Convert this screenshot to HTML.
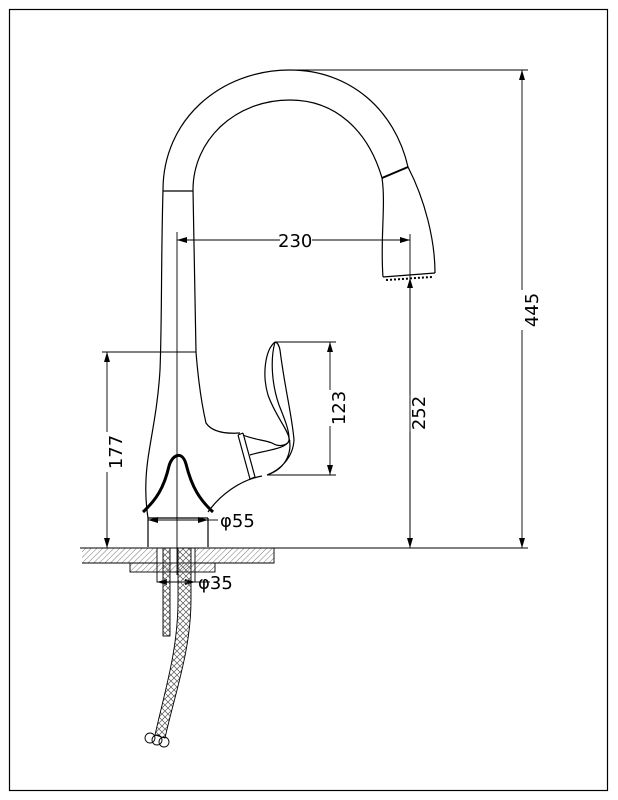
<!DOCTYPE html>
<html><head><meta charset="utf-8"><style>
html,body{margin:0;padding:0;background:#fff;}
svg{display:block;}
text{font-family:"DejaVu Sans","Liberation Sans",sans-serif;font-size:18px;fill:#000;}
</style></head><body>
<svg width="618" height="800" viewBox="0 0 618 800" xmlns="http://www.w3.org/2000/svg">
<defs>
<pattern id="h" width="4" height="4" patternUnits="userSpaceOnUse" patternTransform="rotate(45)">
<line x1="0" y1="0" x2="0" y2="4" stroke="#777" stroke-width="1"/></pattern>
<pattern id="x" width="6" height="6" patternUnits="userSpaceOnUse">
<path d="M0 0L6 6M6 0L0 6" stroke="#555" stroke-width="0.7"/></pattern>
<marker id="a" markerWidth="10" markerHeight="6" refX="10" refY="3" orient="auto" markerUnits="userSpaceOnUse">
<path d="M0 0L10 3L0 6z" fill="#000"/></marker>
</defs>
<rect x="9.5" y="9.5" width="598" height="781" fill="none" stroke="#000" stroke-width="1.2"/>
<g fill="none" stroke="#000" stroke-width="1.2">
<path d="M163 190 C163 120 220 70 290 70 C350 70 395 110 408 167 C425 200 435 240 435 273"/>
<path d="M193 190 C193 140 235 100 290 100 C335 100 368 130 382 178 C386 205 380 240 383 277"/>
<line x1="163" y1="191" x2="193" y2="191"/>
<line x1="382" y1="178" x2="408" y2="167" stroke-width="2"/>
<path d="M383 277 L435 273"/>
<path d="M386 280 L432 277" stroke-dasharray="2 2" stroke-width="2"/>
<path d="M163 190 C161 260 162 320 160 370 C157 420 147 450 146 480 C145 500 147 510 148 518"/>
<path d="M193 190 C194 260 195 320 196 352 C199 390 203 410 206 423 C212 432 225 434 240 433"/>
<path d="M148 518 L148 547 M208 518 L208 547 M148 518 L208 518"/>
<path d="M208 512 C220 495 240 480 262 476"/>
<path d="M143 512 C156 500 164 488 169 466 C172 455 182 450 186 464 C192 488 200 500 213 512" stroke-width="3"/>
<path d="M238 435 L250 479 M243 433 L255 477 M238 435 L243 433 M250 479 L255 477"/>
<path d="M243 435 C255 440 265 440 272 443 C280 448 290 445 289 438"/>
<path d="M250 455 C265 450 285 450 290 440"/>
<path d="M275 342 C265 350 262 375 268 395 C275 415 288 430 289 438 C292 450 288 468 267 475 C280 470 293 458 294 440 C292 415 285 390 280 350 C279 345 277 342 275 342"/>
<path d="M275 342 C270 360 272 385 279 405 C285 420 289 430 289 438"/>
<line x1="177" y1="232" x2="177" y2="575" stroke-width="0.9"/>
<line x1="280" y1="240" x2="177" y2="240" stroke-width="0.9" marker-end="url(#a)"/>
<line x1="312" y1="240" x2="410" y2="240" stroke-width="0.9" marker-end="url(#a)"/>
<line x1="410" y1="234" x2="410" y2="548" stroke-width="0.9"/>
<line x1="410" y1="395" x2="410" y2="278" stroke-width="0.9" marker-end="url(#a)"/>
<line x1="410" y1="432" x2="410" y2="548" stroke-width="0.9" marker-end="url(#a)"/>
<line x1="290" y1="70" x2="528" y2="70" stroke-width="0.9"/>
<line x1="522" y1="290" x2="522" y2="70" stroke-width="0.9" marker-end="url(#a)"/>
<line x1="522" y1="330" x2="522" y2="548" stroke-width="0.9" marker-end="url(#a)"/>
<line x1="275" y1="342" x2="336" y2="342" stroke-width="0.9"/>
<line x1="267" y1="475" x2="336" y2="475" stroke-width="0.9"/>
<line x1="330" y1="390" x2="330" y2="342" stroke-width="0.9" marker-end="url(#a)"/>
<line x1="330" y1="426" x2="330" y2="475" stroke-width="0.9" marker-end="url(#a)"/>
<line x1="102" y1="352" x2="196" y2="352" stroke-width="0.9"/>
<line x1="107" y1="432" x2="107" y2="352" stroke-width="0.9" marker-end="url(#a)"/>
<line x1="107" y1="472" x2="107" y2="548" stroke-width="0.9" marker-end="url(#a)"/>
<line x1="177" y1="520" x2="148" y2="520" stroke-width="0.9" marker-end="url(#a)"/>
<line x1="177" y1="520" x2="208" y2="520" stroke-width="0.9" marker-end="url(#a)"/>
<line x1="208" y1="520" x2="218" y2="520" stroke-width="0.9"/>
<rect x="82" y="548" width="75" height="15" fill="url(#h)" stroke="none"/>
<rect x="195" y="548" width="79" height="15" fill="url(#h)" stroke="none"/>
<path d="M80 548 L528 548 M82 563 L157 563 M195 563 L274 563 L274 548" stroke-width="0.9"/>
<rect x="130" y="563" width="85" height="9" fill="url(#h)" stroke-width="0.9"/>
<rect x="157" y="548" width="38" height="34" stroke-width="0.9"/>
<line x1="177" y1="582" x2="157" y2="582" stroke-width="0.9" marker-end="url(#a)"/>
<line x1="177" y1="582" x2="195" y2="582" stroke-width="0.9" marker-end="url(#a)"/>
<line x1="195" y1="582" x2="210" y2="582" stroke-width="0.9"/>
<rect x="163" y="548" width="7" height="88" fill="url(#x)" stroke-width="0.9"/>
<path d="M178 548 L178 600 C178 650 165 690 155 735 L165 738 C175 693 191 650 191 600 L191 548 Z" fill="url(#x)" stroke-width="0.9"/>
<circle cx="150" cy="738" r="5" stroke-width="0.9"/>
<circle cx="157" cy="740" r="5" stroke-width="0.9"/>
<circle cx="164" cy="742" r="5" stroke-width="0.9"/>
</g>
<text x="278" y="247">230</text>
<text x="220" y="527">φ55</text>
<text x="198" y="589">φ35</text>
<text transform="translate(538,310) rotate(-90)" text-anchor="middle">445</text>
<text transform="translate(425,413) rotate(-90)" text-anchor="middle">252</text>
<text transform="translate(345,408) rotate(-90)" text-anchor="middle">123</text>
<text transform="translate(122,452) rotate(-90)" text-anchor="middle">177</text>
</svg>
</body></html>
